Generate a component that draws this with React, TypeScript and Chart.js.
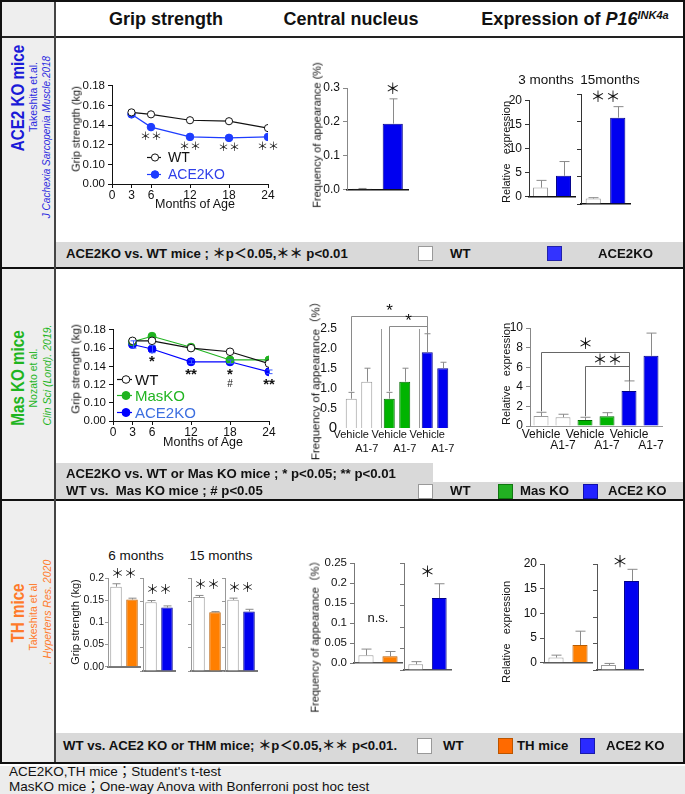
import React, { useEffect, useRef } from "react";
import { Chart, registerables } from "chart.js";

Chart.register(...registerables);

const LS = "'Liberation Sans', Arial, Helvetica, 'Noto Sans CJK JP', sans-serif";
const CJK = "'Noto Sans CJK JP', 'Liberation Sans', sans-serif";
Chart.defaults.font.family = LS;
Chart.defaults.color = "#111";

// ---------------- data ----------------
const months = [3, 6, 12, 18, 24];
const monthTicks = [0, 3, 6, 12, 18, 24];
const gripLineTicks = [0.08, 0.1, 0.12, 0.14, 0.16, 0.18];
const gripLineTickText = ["0.00", "0.10", "0.12", "0.14", "0.16", "0.18"];

// Row 1 : ACE2 KO mice
const ace2GripWT = [0.153, 0.151, 0.145, 0.144, 0.137];
const ace2GripKO = [0.151, 0.138, 0.128, 0.127, 0.128];
const ace2GripStars = ["", "＊＊", "＊＊", "＊＊", "＊＊"];

const ace2CnGroups = ["WT", "ACE2KO"];
const ace2CnMean = [0.003, 0.195];
const ace2CnErr = [0.001, 0.073];
const cn1Ticks = [0, 0.1, 0.2, 0.3];
const cn1TickText = ["0.0", "0.1", "0.2", "0.3"];

const p16Ticks20 = [0, 5, 10, 15, 20];
const p16Ticks20Text = ["0", "5", "10", "15", "20"];
const ace2P16m3 = [1.9, 4.35];
const ace2P16m3Err = [1.5, 2.95];
const ace2P16m15 = [1.0, 15.7];
const ace2P16m15Err = [0.15, 2.0];

// Row 2 : Mas KO mice
const masGripWT = [0.168, 0.168, 0.16, 0.156, 0.143];
const masGripMas = [0.167, 0.173, 0.161, 0.147, 0.147];
const masGripKO = [0.164, 0.159, 0.145, 0.145, 0.134];
const masGripKOErr = [0.004, 0.004, 0.002, 0.002, 0.002];
const masGripStars = ["", "*", "**", "*", "**"];
const masGripHash = ["", "", "", "#", ""];

const treatments = ["Vehicle", "A1-7"];
const masCnGroups = ["WT", "MasKO", "ACE2KO"];
const masCnVehicle = [0.74, 0.74, 1.91];
const masCnVehicleErr = [0.16, 0.16, 0.47];
const masCnA17 = [1.17, 1.17, 1.51];
const masCnA17Err = [0.34, 0.34, 0.15];
const cn2Ticks = [0, 0.5, 1, 1.5, 2, 2.5];
const cn2TickText = ["0", "0.5", "1.0", "1.5", "2.0", "2.5"];

const masP16Labels = ["Vehicle", "A1-7", "Vehicle", "A1-7", "Vehicle", "A1-7"];
const masP16Mean = [1.02, 0.89, 0.61, 0.99, 3.58, 7.16];
const masP16Err = [0.38, 0.31, 0.28, 0.37, 1.02, 2.32];
const p16Ticks10 = [0, 2, 4, 6, 8, 10];
const p16Ticks10Text = ["0", "2", "4", "6", "8", "10"];

// Row 3 : TH mice
const thGrip6TH = [0.1805, 0.1515];
const thGrip6THErr = [0.0065, 0.003];
const thGrip6KO = [0.148, 0.1364];
const thGrip6KOErr = [0.0035, 0.0036];
const thGrip15TH = [0.159, 0.1264];
const thGrip15THErr = [0.0035, 0.0013];
const thGrip15KO = [0.153, 0.1277];
const thGrip15KOErr = [0.0037, 0.005];
const grip3Ticks = [0, 0.05, 0.1, 0.15, 0.2];
const grip3TickText = ["0.00", "0.05", "0.1", "0.15", "0.2"];

const thCnTH = [0.0195, 0.017];
const thCnTHErr = [0.0155, 0.012];
const thCnKO = [0.0133, 0.168];
const thCnKOErr = [0.0062, 0.0335];
const cn3Ticks = [0, 0.05, 0.1, 0.15, 0.2, 0.25];
const cn3TickText = ["0.0", "0.05", "0.1", "0.15", "0.2", "0.25"];

const thP16TH = [1.05, 3.6];
const thP16THErr = [0.5, 2.8];
const thP16KO = [0.94, 16.8];
const thP16KOErr = [0.3, 2.2];

// ---------------- colours ----------------
const WT_FILL = "#ffffff";
const WT_EDGE = "#9a9a9a";
const BLUE = "#0000f0";
const BLUE_EDGE = "#00008a";
const GREEN = "#00b400";
const GREEN_EDGE = "#006a00";
const ORANGE = "#ff7f00";
const ORANGE_EDGE = "#b85c00";

// ---------------- plugins ----------------
const errorBars = {
  id: "errorBars",
  afterDatasetsDraw(chart: any) {
    const ctx = chart.ctx;
    const ys = chart.scales.y;
    chart.data.datasets.forEach((ds: any, d: number) => {
      if (!ds.errors) return;
      const meta = chart.getDatasetMeta(d);
      meta.data.forEach((el: any, i: number) => {
        const e = ds.errors[i];
        if (!e) return;
        const raw = ds.data[i];
        const v = typeof raw === "number" ? raw : raw.y;
        const x = Math.round(el.x) + 0.5;
        const top = ys.getPixelForValue(v + e);
        const bot = ds.errBoth ? ys.getPixelForValue(v - e) : ys.getPixelForValue(v);
        const cap = ds.errCap ?? 4;
        ctx.save();
        ctx.strokeStyle = ds.errColor || "#8a8a8a";
        ctx.lineWidth = 1;
        ctx.beginPath();
        ctx.moveTo(x, bot);
        ctx.lineTo(x, top);
        ctx.moveTo(x - cap, top);
        ctx.lineTo(x + cap, top);
        if (ds.errBoth) {
          ctx.moveTo(x - cap, bot);
          ctx.lineTo(x + cap, bot);
        }
        ctx.stroke();
        ctx.restore();
      });
    });
  },
};

const annot = {
  id: "annot",
  afterDraw(chart: any, _a: any, opts: any) {
    const items = opts && opts.items;
    if (!items) return;
    const { ctx, chartArea } = chart;
    const ys = chart.scales.y;
    const xs = chart.scales.x;
    const dsets = chart.data.datasets;
    const el = (d: number, i: number) => chart.getDatasetMeta(d).data[i];
    const val = (d: number, i: number) => {
      const r = dsets[d].data[i];
      return typeof r === "number" ? r : r.y;
    };
    const errTop = (d: number, i: number) =>
      ys.getPixelForValue(val(d, i) + ((dsets[d].errors || [])[i] || 0));
    const all = () => {
      const out: [number, number][] = [];
      dsets.forEach((ds: any, d: number) => ds.data.forEach((_: any, i: number) => out.push([d, i])));
      return out;
    };
    ctx.save();
    for (const it of items) {
      ctx.textAlign = "center";
      ctx.textBaseline = "middle";
      ctx.font = it.font || `14px ${CJK}`;
      ctx.fillStyle = it.color || "#111";
      if (it.type === "point") {
        const e = el(it.ds, it.i);
        ctx.fillText(it.text, e.x + (it.dx || 0), e.y + it.dy);
      } else if (it.type === "bar") {
        const e = el(it.ds, it.i);
        ctx.fillText(it.text, e.x + (it.dx || 0), errTop(it.ds, it.i) + it.dy);
      } else if (it.type === "panel") {
        const pts = all();
        const xa = pts.map(([d, i]) => el(d, i).x);
        const top = Math.min(...pts.map(([d, i]) => errTop(d, i)));
        ctx.fillText(it.text, (Math.min(...xa) + Math.max(...xa)) / 2 + (it.dx || 0), top + it.dy);
      } else if (it.type === "below") {
        const meta = chart.getDatasetMeta(it.ds);
        meta.data.forEach((e: any, i: number) => {
          const t = Array.isArray(it.text) ? it.text[i] : it.text;
          if (t) ctx.fillText(t, e.x, chartArea.bottom + it.dy);
        });
      } else if (it.type === "bracket") {
        const a = el(it.from[0], it.from[1]);
        const b = el(it.to[0], it.to[1]);
        const yl = Math.round(ys.getPixelForValue(it.level)) + 0.5;
        const xa = Math.round(a.x) + 0.5;
        const xb = Math.round(b.x) + 0.5;
        ctx.strokeStyle = it.lineColor || "#8a8a8a";
        ctx.lineWidth = 1;
        ctx.beginPath();
        ctx.moveTo(xa, errTop(it.from[0], it.from[1]) - 1);
        ctx.lineTo(xa, yl);
        ctx.lineTo(xb, yl);
        ctx.lineTo(xb, errTop(it.to[0], it.to[1]));
        ctx.stroke();
        ctx.fillText(it.text, (xa + xb) / 2, yl + it.dy);
      } else if (it.type === "sep") {
        ctx.strokeStyle = it.lineColor || "#9a9a9a";
        ctx.lineWidth = 1;
        for (let k = 0; k < xs.ticks.length - 1; k++) {
          const x = Math.round((xs.getPixelForValue(k) + xs.getPixelForValue(k + 1)) / 2 + (it.dx || 0)) + 0.5;
          ctx.beginPath();
          ctx.moveTo(x, chartArea.top);
          ctx.lineTo(x, chartArea.bottom);
          ctx.stroke();
        }
      } else if (it.type === "legend") {
        dsets.forEach((ds: any, d: number) => {
          const y = Math.round(chartArea.bottom - it.rows[d]) + 0.5;
          const x0 = chartArea.left + it.dx;
          ctx.strokeStyle = ds.borderColor;
          ctx.lineWidth = ds.borderWidth || 1;
          ctx.beginPath();
          ctx.moveTo(x0, y);
          ctx.lineTo(x0 + it.lineW, y);
          ctx.stroke();
          ctx.beginPath();
          ctx.arc(x0 + it.mark, y, ds.pointRadius, 0, Math.PI * 2);
          ctx.fillStyle = ds.pointBackgroundColor;
          ctx.fill();
          ctx.strokeStyle = ds.pointBorderColor;
          ctx.lineWidth = ds.pointBorderWidth || 1;
          ctx.stroke();
          ctx.fillStyle = it.colors[d];
          ctx.textAlign = "left";
          ctx.fillText(ds.label, x0 + it.lineW + it.gap, y + 1);
        });
      }
    }
    ctx.restore();
  },
};

// ---------------- helpers ----------------
type Box = { l: number; t: number; r: number; b: number; pl: number; pt: number; pr: number; pb: number };

function ChartCanvas({ box, make }: { box: Box; make: () => any }) {
  const ref = useRef<HTMLCanvasElement | null>(null);
  const w = box.r - box.l + box.pl + box.pr;
  const h = box.b - box.t + box.pt + box.pb;
  useEffect(() => {
    const cfg = make();
    const o = cfg.options || (cfg.options = {});
    o.responsive = false;
    o.maintainAspectRatio = false;
    o.animation = false;
    o.devicePixelRatio = 1;
    o.events = [];
    o.layout = { padding: { left: 0, right: box.pr, top: box.pt, bottom: 0 }, autoPadding: false };
    o.plugins = { legend: { display: false }, tooltip: { enabled: false }, ...(o.plugins || {}) };
    o.scales.y.afterFit = (s: any) => {
      s.width = box.pl;
    };
    o.scales.x.afterFit = (s: any) => {
      s.height = box.pb;
    };
    cfg.plugins = [errorBars, annot];
    const chart = new Chart(ref.current as HTMLCanvasElement, cfg);
    return () => chart.destroy();
  }, []);
  return (
    <canvas
      ref={ref}
      width={w}
      height={h}
      style={{ position: "absolute", left: box.l - box.pl, top: box.t - box.pt, width: w, height: h }}
    />
  );
}

type YOpt = {
  show: boolean;
  size: number;
  line: string;
  lineW?: number;
  tick?: boolean;
  tickLen?: number;
  pad?: number;
  border?: boolean;
  fontFn?: any;
};
function yAxis(min: number, max: number, ticks: number[], text: string[], o: YOpt) {
  const tick = o.tick !== false;
  return {
    type: "linear",
    min,
    max,
    afterBuildTicks: (s: any) => {
      s.ticks = ticks.map((v) => ({ value: v }));
    },
    ticks: {
      display: o.show,
      autoSkip: false,
      callback: (_v: any, i: number) => text[i],
      font: o.fontFn || { size: o.size },
      color: "#111",
      padding: o.pad ?? 3,
    },
    grid: {
      display: tick,
      drawOnChartArea: false,
      drawTicks: tick,
      tickLength: tick ? o.tickLen ?? 4 : 0,
      color: o.line,
      tickColor: o.line,
    },
    border: { display: o.border !== false, color: o.line, width: o.lineW ?? 1 },
  };
}

function xCat(base: boolean, color = "#111", width = 1) {
  return {
    type: "category",
    offset: true,
    ticks: { display: false },
    grid: { display: false, drawTicks: false },
    border: { display: base, color, width },
  };
}

function barDs(values: number[], errors: number[], fills: string[], edges: string[], pct: number, cap = 4, extra: any = {}) {
  return {
    data: values,
    errors,
    errCap: cap,
    backgroundColor: fills,
    borderColor: edges,
    borderWidth: 1,
    barPercentage: pct,
    categoryPercentage: 1,
    ...extra,
  };
}

function twoBar(
  labels: string[],
  values: number[],
  errors: number[],
  fills: string[],
  edges: string[],
  y: any,
  base: [string, number],
  pct: number,
  cap: number,
  notes: any[]
) {
  return () => ({
    type: "bar",
    data: { labels, datasets: [barDs(values, errors, fills, edges, pct, cap)] },
    options: {
      scales: { x: xCat(true, base[0], base[1]), y },
      plugins: { annot: { items: notes } },
    },
  });
}

function lineDs(label: string, vals: number[], color: string, open: boolean, r: number, extra: any = {}) {
  return {
    label,
    data: months.map((m, i) => ({ x: m, y: vals[i] })),
    borderColor: color,
    borderWidth: 1.2,
    pointRadius: r,
    pointBackgroundColor: open ? "#fff" : color,
    pointBorderColor: color,
    pointBorderWidth: 1,
    ...extra,
  };
}

function gripLine(datasets: any[], notes: any[]) {
  return () => ({
    type: "line",
    data: { datasets },
    options: {
      scales: {
        x: {
          type: "linear",
          min: 0,
          max: 24,
          afterBuildTicks: (s: any) => {
            s.ticks = monthTicks.map((v) => ({ value: v }));
          },
          ticks: { autoSkip: false, maxRotation: 0, font: { size: 12 }, color: "#111", padding: 0 },
          grid: { display: true, drawOnChartArea: false, drawTicks: true, tickLength: 4, color: "#111", tickColor: "#111" },
          border: { display: true, color: "#111", width: 1 },
        },
        y: yAxis(0.08, 0.18, gripLineTicks, gripLineTickText, { show: true, size: 11.5, line: "#111" }),
      },
      plugins: { annot: { items: notes } },
    },
  });
}

function Txt(props: {
  x: number;
  y: number;
  s: number;
  children: React.ReactNode;
  b?: boolean;
  i?: boolean;
  c?: string;
  a?: "start" | "middle" | "end";
  rot?: boolean;
  sx?: number;
  f?: string;
}) {
  const { x, y, s, b, i, c = "#111", a = "middle", rot, f = LS, sx } = props;
  const tx = a === "middle" ? "-50%" : a === "end" ? "-100%" : "0%";
  return (
    <div
      style={{
        position: "absolute",
        left: x,
        top: y,
        transform: `translate(${tx}, -50%)${rot ? " rotate(-90deg)" : ""}${sx ? ` scaleX(${sx})` : ""}`,
        fontSize: s,
        fontWeight: b ? 700 : 400,
        fontStyle: i ? "italic" : "normal",
        color: c,
        fontFamily: f,
        lineHeight: 1.15,
        whiteSpace: "pre",
      }}
    >
      {props.children}
    </div>
  );
}

function Rect(p: { x: number; y: number; w: number; h: number; bg: string; border?: string }) {
  return (
    <div
      style={{
        position: "absolute",
        left: p.x,
        top: p.y,
        width: p.w,
        height: p.h,
        background: p.bg,
        border: p.border,
        boxSizing: "border-box",
      }}
    />
  );
}

// ---------------- chart definitions ----------------
const starFont = (s: number) => `${s}px ${CJK}`;

const grip1 = gripLine(
  [
    lineDs("WT", ace2GripWT, "#111111", true, 3.6),
    lineDs("ACE2KO", ace2GripKO, "#1d3cff", false, 3.8),
  ],
  [
    ...ace2GripStars.map((t, i) => ({ type: "point", ds: 1, i, text: t, dy: 9, font: starFont(11) })),
    { type: "legend", dx: 35, lineW: 14, mark: 8, gap: 7, rows: [27, 10], colors: ["#111", "#2f3fe8"], font: `14px ${LS}` },
  ]
);

const cn1 = twoBar(
  ace2CnGroups,
  ace2CnMean,
  ace2CnErr,
  [WT_FILL, BLUE],
  ["#666", BLUE_EDGE],
  yAxis(0, 0.3, cn1Ticks, cn1TickText, { show: true, size: 12, line: "#888" }),
  ["#111", 1.5],
  0.66,
  4,
  [{ type: "bar", ds: 0, i: 1, text: "＊", dy: -11, font: starFont(15) }]
);

const p16a1 = twoBar(
  ["WT", "ACE2KO"],
  ace2P16m3,
  ace2P16m3Err,
  [WT_FILL, BLUE],
  [WT_EDGE, BLUE_EDGE],
  yAxis(0, 20, p16Ticks20, p16Ticks20Text, { show: true, size: 12, line: "#333" }),
  ["#111", 1.5],
  0.65,
  5,
  []
);

const p16b1 = twoBar(
  ["WT", "ACE2KO"],
  ace2P16m15,
  ace2P16m15Err,
  [WT_FILL, BLUE],
  [WT_EDGE, BLUE_EDGE],
  yAxis(0, 20, p16Ticks20, p16Ticks20Text, { show: false, size: 12, line: "#333" }),
  ["#111", 1.5],
  0.62,
  5,
  [{ type: "panel", text: "＊＊", dy: -10, font: starFont(15) }]
);

const grip2 = gripLine(
  [
    lineDs("WT", masGripWT, "#111111", true, 3.8),
    lineDs("MasKO", masGripMas, "#1fb31f", false, 4),
    lineDs("ACE2KO", masGripKO, "#0000ff", false, 4, { errors: masGripKOErr, errBoth: true, errCap: 3, errColor: "#3b5bff" }),
  ],
  [
    ...masGripStars.map((t, i) => ({ type: "point", ds: 2, i, text: t, dy: 13, font: `bold 15px ${LS}` })),
    ...masGripHash.map((t, i) => ({ type: "point", ds: 2, i, text: t, dy: 22, font: `10px ${LS}` })),
    { type: "legend", dx: 4, lineW: 15, mark: 9, gap: 3, rows: [42, 26, 9], colors: ["#111", "#22b522", "#3d6fe0"], font: `15px ${LS}` },
  ]
);

const cn2 = () => ({
  type: "bar",
  data: {
    labels: masCnGroups,
    datasets: [
      barDs(masCnVehicle, masCnVehicleErr, [WT_FILL, GREEN, BLUE], [WT_EDGE, GREEN_EDGE, BLUE_EDGE], 0.71, 3, { categoryPercentage: 0.816 }),
      barDs(masCnA17, masCnA17Err, [WT_FILL, GREEN, BLUE], [WT_EDGE, GREEN_EDGE, BLUE_EDGE], 0.71, 3, { categoryPercentage: 0.816 }),
    ],
  },
  options: {
    scales: {
      x: xCat(false),
      y: yAxis(0, 2.5, cn2Ticks, cn2TickText, {
        show: true,
        size: 12,
        line: "#888",
        tick: false,
        border: false,
        fontFn: (c: any) => ({ size: c.tick && c.tick.value === 0 ? 15 : 12 }),
      }),
    },
    plugins: {
      annot: {
        items: [
          { type: "sep", dx: 3 },
          { type: "below", ds: 0, text: treatments[0], dy: 7, font: `11px ${LS}` },
          { type: "below", ds: 1, text: treatments[1], dy: 21, font: `11px ${LS}` },
          { type: "bracket", from: [0, 0], to: [0, 2], level: 2.84, text: "*", dy: -5, font: `17px ${LS}` },
          { type: "bracket", from: [0, 1], to: [0, 2], level: 2.57, text: "*", dy: -5, font: `17px ${LS}` },
        ],
      },
    },
  },
});

const p16m2 = () => ({
  type: "bar",
  data: {
    labels: masP16Labels,
    datasets: [
      barDs(
        masP16Mean,
        masP16Err,
        [WT_FILL, WT_FILL, GREEN, GREEN, BLUE, BLUE],
        [WT_EDGE, WT_EDGE, GREEN_EDGE, GREEN_EDGE, BLUE_EDGE, BLUE_EDGE],
        0.68,
        5
      ),
    ],
  },
  options: {
    scales: {
      x: xCat(true, "#999", 1),
      y: yAxis(0, 10, p16Ticks10, p16Ticks10Text, { show: true, size: 12, line: "#888" }),
    },
    plugins: {
      annot: {
        items: [
          { type: "below", ds: 0, text: masP16Labels.map((t, i) => (i % 2 === 0 ? t : "")), dy: 9, font: `12px ${LS}` },
          { type: "below", ds: 0, text: masP16Labels.map((t, i) => (i % 2 === 1 ? t : "")), dy: 20, font: `12px ${LS}` },
          { type: "bracket", from: [0, 0], to: [0, 4], level: 7.54, text: "＊", dy: -9, font: starFont(15), lineColor: "#666" },
          { type: "bracket", from: [0, 2], to: [0, 4], level: 6.14, text: "＊＊", dy: -7, font: starFont(15), lineColor: "#666" },
        ],
      },
    },
  },
});

const grip3Axis = (show: boolean) =>
  yAxis(0, 0.2, grip3Ticks, grip3TickText, { show, size: 10.5, line: "#999", tickLen: 3, pad: 1 });
const grip3Panel = (vals: number[], errs: number[], fill: string, edge: string, show: boolean) =>
  twoBar(["WT", "KO"], vals, errs, [WT_FILL, fill], [WT_EDGE, edge], grip3Axis(show), ["#777", 2], 0.72, 4, [
    { type: "panel", text: "＊＊", dy: -11, font: starFont(13) },
  ]);

const grip3a = grip3Panel(thGrip6TH, thGrip6THErr, ORANGE, ORANGE_EDGE, true);
const grip3b = grip3Panel(thGrip6KO, thGrip6KOErr, BLUE, BLUE_EDGE, false);
const grip3c = grip3Panel(thGrip15TH, thGrip15THErr, ORANGE, ORANGE_EDGE, false);
const grip3d = grip3Panel(thGrip15KO, thGrip15KOErr, BLUE, BLUE_EDGE, false);

const cn3a = twoBar(
  ["WT", "TH"],
  thCnTH,
  thCnTHErr,
  [WT_FILL, ORANGE],
  [WT_EDGE, ORANGE_EDGE],
  yAxis(0, 0.25, cn3Ticks, cn3TickText, { show: true, size: 11.5, line: "#777" }),
  ["#555", 1.5],
  0.63,
  5,
  [{ type: "panel", text: "n.s.", dy: -31, font: `13px ${LS}` }]
);
const cn3b = twoBar(
  ["WT", "ACE2KO"],
  thCnKO,
  thCnKOErr,
  [WT_FILL, BLUE],
  [WT_EDGE, BLUE_EDGE],
  yAxis(0, 0.25, cn3Ticks, cn3TickText, { show: false, size: 11.5, line: "#777" }),
  ["#555", 1.5],
  0.63,
  5,
  [{ type: "panel", text: "＊", dy: -12, font: starFont(15) }]
);

const p16a3 = twoBar(
  ["WT", "TH"],
  thP16TH,
  thP16THErr,
  [WT_FILL, ORANGE],
  [WT_EDGE, ORANGE_EDGE],
  yAxis(0, 20, p16Ticks20, p16Ticks20Text, { show: true, size: 12, line: "#555" }),
  ["#555", 1.5],
  0.63,
  5,
  []
);
const p16b3 = twoBar(
  ["WT", "ACE2KO"],
  thP16KO,
  thP16KOErr,
  [WT_FILL, BLUE],
  [WT_EDGE, BLUE_EDGE],
  yAxis(0, 20, p16Ticks20, p16Ticks20Text, { show: false, size: 12, line: "#555" }),
  ["#555", 1.5],
  0.65,
  5,
  [{ type: "panel", text: "＊", dy: -8, font: starFont(16) }]
);

// ---------------- page ----------------
const legendText = { s: 13.2, b: true } as const;

export default function App() {
  return (
    <div
      style={{
        position: "absolute",
        left: 0,
        top: 0,
        width: 685,
        height: 794,
        background: "#fff",
        overflow: "hidden",
        fontFamily: LS,
      }}
    >
      {/* backgrounds */}
      <Rect x={0} y={0} w={55} h={763} bg="#eeeeee" />
      <Rect x={55} y={242} w={630} h={25} bg="#d9d9d9" />
      <Rect x={55} y={463} w={378} h={20} bg="#d9d9d9" />
      <Rect x={55} y={482} w={630} h={18} bg="#d9d9d9" />
      <Rect x={55} y={733} w={630} h={29} bg="#d9d9d9" />
      <Rect x={0} y={766} w={685} h={28} bg="#ececec" />

      {/* frame lines */}
      <Rect x={0} y={36} w={685} h={2} bg="#222" />
      <Rect x={0} y={267} w={685} h={2} bg="#111" />
      <Rect x={0} y={499} w={685} h={2} bg="#111" />
      <Rect x={54} y={0} w={1.5} h={763} bg="#444" />
      <Rect x={0} y={0} w={685} h={764} bg="transparent" border="2px solid #111" />

      {/* header */}
      <Txt x={166} y={19} s={18} b>
        Grip strength
      </Txt>
      <Txt x={351} y={19} s={18} b>
        Central nucleus
      </Txt>
      <Txt x={575} y={19} s={18} b>
        Expression of{" "}
        <span style={{ fontStyle: "italic" }}>
          P16<sup style={{ fontSize: 11, verticalAlign: 6 }}>INK4a</sup>
        </span>
      </Txt>

      {/* left column */}
      <Txt x={18} y={98} s={19} b rot sx={0.8} c="#1a1ad8">
        ACE2 KO mice
      </Txt>
      <Txt x={33} y={97} s={10.5} rot c="#2b2be0">
        Takeshita et.al.
      </Txt>
      <Txt x={47} y={137} s={10} i rot c="#2b2be0">
        J Cachexia Sarcopenia Muscle.2018
      </Txt>
      <Txt x={18} y={378} s={19} b rot sx={0.8} c="#1fb51f">
        Mas KO mice
      </Txt>
      <Txt x={33} y={378} s={10.5} rot c="#1fb51f">
        Nozato et al.
      </Txt>
      <Txt x={47} y={375} s={10.5} i rot c="#1fb51f">
        Clin Sci (Lond). 2019.
      </Txt>
      <Txt x={18} y={613} s={19} b rot sx={0.8} c="#ff7a2a">
        TH mice
      </Txt>
      <Txt x={33} y={617} s={10.5} rot c="#ff7a2a">
        Takeshita et al
      </Txt>
      <Txt x={47} y={612} s={10.5} i rot c="#ff7a2a">
        . Hypertens Res. 2020
      </Txt>

      {/* row 1 charts */}
      <ChartCanvas box={{ l: 112, t: 80, r: 268, b: 184, pl: 45, pt: 4, pr: 12, pb: 26 }} make={grip1} />
      <Txt x={76} y={129} s={11} rot>
        Grip strength (kg)
      </Txt>
      <Txt x={195} y={204} s={12.5}>
        Months of Age
      </Txt>

      <ChartCanvas box={{ l: 347, t: 88, r: 408, b: 197, pl: 40, pt: 22, pr: 3, pb: 3 }} make={cn1} />
      <Txt x={317} y={135} s={11} rot>
        Frequency of appearance (%)
      </Txt>

      <ChartCanvas box={{ l: 529, t: 94, r: 575, b: 204, pl: 26, pt: 4, pr: 2, pb: 3 }} make={p16a1} />
      <ChartCanvas box={{ l: 581, t: 94, r: 630, b: 204, pl: 6, pt: 22, pr: 8, pb: 3 }} make={p16b1} />
      <Txt x={546} y={80} s={13.5}>
        3 months
      </Txt>
      <Txt x={610} y={80} s={13.5}>
        15months
      </Txt>
      <Txt x={506} y={152} s={11} rot>
        {"Relative   expression"}
      </Txt>

      {/* row 1 legend */}
      <Txt x={66} y={254} a="start" {...legendText}>
        ACE2KO vs. WT mice ; ＊p＜0.05,＊＊ p&lt;0.01
      </Txt>
      <Rect x={418} y={246} w={15} h={15} bg="#fff" border="1px solid #999" />
      <Txt x={450} y={254} a="start" {...legendText}>
        WT
      </Txt>
      <Rect x={547} y={246} w={15} h={15} bg="#3333ff" border="1px solid #2222aa" />
      <Txt x={598} y={254} a="start" {...legendText}>
        ACE2KO
      </Txt>

      {/* row 2 charts */}
      <ChartCanvas box={{ l: 113, t: 324, r: 269, b: 421, pl: 45, pt: 4, pr: 12, pb: 22 }} make={grip2} />
      <Txt x={76} y={369} s={11.5} rot>
        Grip strength (kg)
      </Txt>
      <Txt x={203} y={442} s={12.5}>
        Months of Age
      </Txt>

      <ChartCanvas box={{ l: 340, t: 329, r: 454, b: 428, pl: 30, pt: 30, pr: 3, pb: 30 }} make={cn2} />
      <Txt x={316} y={378} s={11.5} rot>
        Frequency of appearance（%）
      </Txt>

      <ChartCanvas box={{ l: 530, t: 328, r: 662, b: 426, pl: 30, pt: 30, pr: 3, pb: 28 }} make={p16m2} />
      <Txt x={506} y={374} s={11} rot>
        {"Relative   expression"}
      </Txt>

      {/* row 2 legend */}
      <Txt x={66} y={474} a="start" {...legendText}>
        ACE2KO vs. WT or Mas KO mice ; * p&lt;0.05; ** p&lt;0.01
      </Txt>
      <Txt x={66} y={491} a="start" {...legendText}>
        WT vs.  Mas KO mice ; # p&lt;0.05
      </Txt>
      <Rect x={418} y={484} w={15} h={15} bg="#fff" border="1px solid #999" />
      <Txt x={450} y={491} a="start" {...legendText}>
        WT
      </Txt>
      <Rect x={498} y={484} w={15} h={15} bg="#22b022" border="1px solid #117711" />
      <Txt x={520} y={491} a="start" {...legendText}>
        Mas KO
      </Txt>
      <Rect x={583} y={484} w={15} h={15} bg="#2222ff" border="1px solid #1111aa" />
      <Txt x={608} y={491} a="start" {...legendText}>
        ACE2 KO
      </Txt>

      {/* row 3 charts */}
      <Txt x={136} y={556} s={13.5}>
        6 months
      </Txt>
      <Txt x={221} y={556} s={13.5}>
        15 months
      </Txt>
      <ChartCanvas box={{ l: 108, t: 578, r: 140, b: 671, pl: 24, pt: 16, pr: 2, pb: 3 }} make={grip3a} />
      <ChartCanvas box={{ l: 143, t: 578, r: 175, b: 671, pl: 5, pt: 16, pr: 2, pb: 3 }} make={grip3b} />
      <ChartCanvas box={{ l: 191, t: 578, r: 223, b: 671, pl: 5, pt: 16, pr: 2, pb: 3 }} make={grip3c} />
      <ChartCanvas box={{ l: 225, t: 578, r: 257, b: 671, pl: 5, pt: 16, pr: 2, pb: 3 }} make={grip3d} />
      <Txt x={75} y={622} s={11} rot>
        Grip strength (kg)
      </Txt>

      <ChartCanvas box={{ l: 354, t: 563, r: 402, b: 670, pl: 40, pt: 14, pr: 2, pb: 3 }} make={cn3a} />
      <ChartCanvas box={{ l: 404, t: 563, r: 451, b: 670, pl: 5, pt: 14, pr: 2, pb: 3 }} make={cn3b} />
      <Txt x={315} y={634} s={11} rot>
        Frequency of appearance（%）
      </Txt>

      <ChartCanvas box={{ l: 544, t: 564, r: 592, b: 670, pl: 28, pt: 14, pr: 2, pb: 3 }} make={p16a3} />
      <ChartCanvas box={{ l: 597, t: 564, r: 643, b: 670, pl: 5, pt: 14, pr: 2, pb: 3 }} make={p16b3} />
      <Txt x={506} y={632} s={11} rot>
        {"Relative   expression"}
      </Txt>

      {/* row 3 legend */}
      <Txt x={63} y={746} a="start" {...legendText}>
        WT vs. ACE2 KO or THM mice; ＊p＜0.05,＊＊ p&lt;0.01.
      </Txt>
      <Rect x={417} y={738} w={15} h={16} bg="#fff" border="1px solid #999" />
      <Txt x={443} y={746} a="start" {...legendText}>
        WT
      </Txt>
      <Rect x={498} y={738} w={15} h={16} bg="#ff6a00" border="1px solid #bb5500" />
      <Txt x={517} y={746} a="start" {...legendText}>
        TH mice
      </Txt>
      <Rect x={580} y={738} w={15} h={16} bg="#2a2aff" border="1px solid #1a1aaa" />
      <Txt x={606} y={746} a="start" {...legendText}>
        ACE2 KO
      </Txt>

      {/* notes */}
      <Txt x={9} y={772} a="start" s={13.5}>
        ACE2KO,TH mice；Student's t-test
      </Txt>
      <Txt x={9} y={787} a="start" s={13.5}>
        MasKO mice；One-way Anova with Bonferroni post hoc test
      </Txt>
    </div>
  );
}
